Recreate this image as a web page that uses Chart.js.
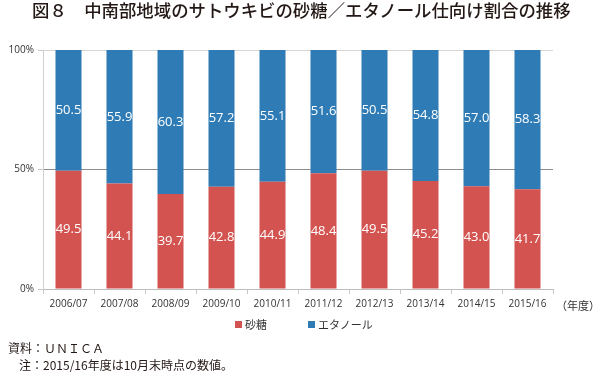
<!DOCTYPE html>
<html lang="ja">
<head>
<meta charset="utf-8">
<script src="https://cdn.jsdelivr.net/npm/chart.js@4/dist/chart.umd.min.js"></script>
<style>
    body { margin: 0; background: #fff; }
    #wrap { position: relative; width: 600px; height: 373px; font-family: "Noto Sans CJK JP", sans-serif; color: #231815; }
    #wrap canvas { position: absolute; left: 0; top: 0; }
    .txt { position: absolute; white-space: nowrap; }
    #title { left: 32px; top: -3px; font-size: 17.4px; font-weight: 500; }
    #unit { left: 556px; top: 297px; font-size: 11px; color: #333; }
    #legend { position: absolute; left: 235px; top: 316px; display: flex; gap: 41px; font-size: 11px; color: #333; }
    #legend span.item { display: flex; align-items: center; }
    #legend i { display: inline-block; width: 7px; height: 7px; margin-right: 3px; }
    #src { left: 8px; top: 339px; font-size: 12px; }
    #note { left: 19px; top: 356px; font-size: 12px; }
</style>
</head>
<body>
<div id="wrap">
    <canvas id="shareChart" width="600" height="373"></canvas>
    <div class="txt" id="title">図８　中南部地域のサトウキビの砂糖／エタノール仕向け割合の推移</div>
    <div class="txt" id="unit">（年度）</div>
    <div id="legend"></div>
    <div class="txt" id="src">資料：ＵＮＩＣＡ</div>
    <div class="txt" id="note">注：2015/16年度は10月末時点の数値。</div>
</div>

<script>
// crop years
const years = ['2006/07', '2007/08', '2008/09', '2009/10', '2010/11', '2011/12', '2012/13', '2013/14', '2014/15', '2015/16'];

// share of cane going to each use (%)
const sugarShare = [49.5, 44.1, 39.7, 42.8, 44.9, 48.4, 49.5, 45.2, 43.0, 41.7];
const ethanolShare = [50.5, 55.9, 60.3, 57.2, 55.1, 51.6, 50.5, 54.8, 57.0, 58.3];

const yTicks = [0, 50, 100];

document.addEventListener('DOMContentLoaded', () => {
    initShareChart();
});

// white numbers in the middle of each bar segment
const segmentLabels = {
    id: 'segmentLabels',
    afterDatasetsDraw(chart) {
        const ctx = chart.ctx;
        ctx.save();
        ctx.fillStyle = '#fff';
        ctx.font = '13px "Open Sans"';
        ctx.textAlign = 'center';
        ctx.textBaseline = 'middle';
        chart.data.datasets.forEach((ds, i) => {
            chart.getDatasetMeta(i).data.forEach((bar, j) => {
                const y = (bar.y + bar.base) / 2;
                ctx.fillText(ds.data[j].toFixed(1), bar.x, y);
            });
        });
        ctx.restore();
    }
};

function initShareChart() {
    const ctx = document.getElementById('shareChart').getContext('2d');

    const chart = new Chart(ctx, {
        type: 'bar',
        data: {
            labels: years,
            datasets: [{
                label: '砂糖',
                data: sugarShare,
                backgroundColor: '#d25350'
            }, {
                label: 'エタノール',
                data: ethanolShare,
                backgroundColor: '#2e7bb5'
            }]
        },
        options: {
            responsive: false,
            animation: false,
            layout: {
                padding: { left: 0, top: 50, right: 47, bottom: 54 }
            },
            datasets: {
                bar: { categoryPercentage: 1, barPercentage: 0.51 }
            },
            scales: {
                x: {
                    stacked: true,
                    afterFit: (s) => { s.height = 30; },
                    grid: {
                        drawOnChartArea: false,
                        tickLength: 5,
                        color: '#c8c8c8'
                    },
                    border: { color: '#bdbdbd' },
                    ticks: {
                        color: '#333',
                        font: { family: 'Open Sans', size: 10 },
                        padding: 4,
                        maxRotation: 0,
                        autoSkip: false
                    }
                },
                y: {
                    stacked: true,
                    min: 0,
                    max: 100,
                    afterFit: (s) => { s.width = 43; },
                    afterBuildTicks: (s) => { s.ticks = yTicks.map(v => ({ value: v })); },
                    grid: {
                        tickLength: 5,
                        color: (c) => (c.tick && c.tick.value === 50 ? '#8c8c8c' : '#d6d6d6'),
                        tickColor: '#c8c8c8'
                    },
                    border: { color: '#d0d0d0' },
                    ticks: {
                        color: '#333',
                        font: { family: 'Open Sans', size: 10 },
                        padding: 4,
                        callback: (v) => v + '%'
                    }
                }
            },
            plugins: {
                legend: { display: false },
                tooltip: { enabled: false }
            }
        },
        plugins: [segmentLabels]
    });

    // legend built from the datasets
    const legend = document.getElementById('legend');
    chart.data.datasets.forEach(ds => {
        const item = document.createElement('span');
        item.className = 'item';
        item.innerHTML = '<i style="background:' + ds.backgroundColor + '"></i>' + ds.label;
        legend.appendChild(item);
    });
}
</script>
</body>
</html>
